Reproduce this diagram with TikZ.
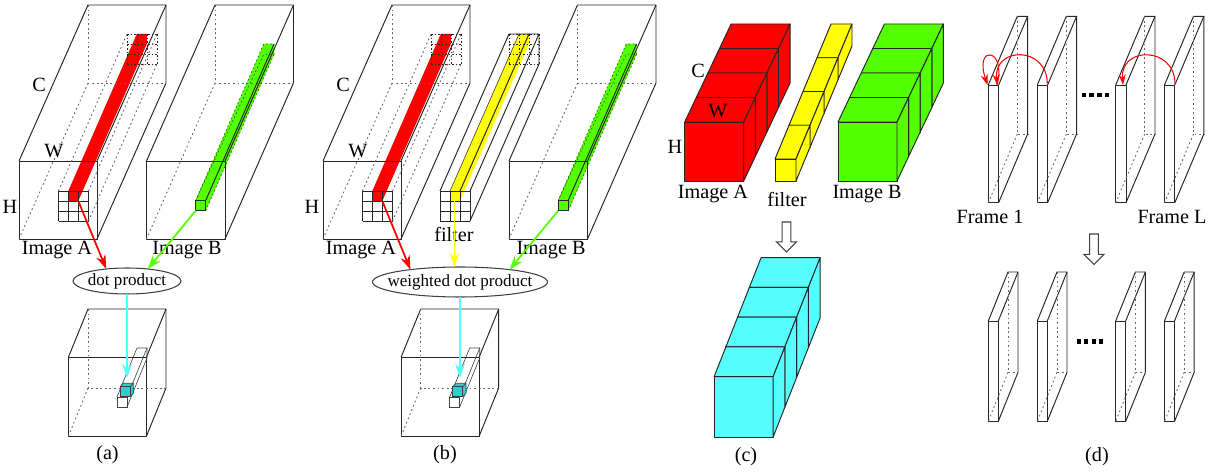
\documentclass[tikz,border=0pt]{standalone}
\usepackage{fontspec}
\setmainfont{Liberation Serif}
\usetikzlibrary{arrows.meta,shapes.geometric}
\definecolor{imgRed}{RGB}{255,0,0}
\definecolor{imgGreen}{RGB}{84,255,0}
\definecolor{imgYellow}{RGB}{255,255,0}
\definecolor{imgCyan}{RGB}{85,255,255}
\definecolor{cellTeal}{RGB}{50,205,205}
\tikzset{
  wire/.style={line width=0.55pt,black!85,line join=round},
  thinwire/.style={line width=0.35pt,black!75},
  hiddenline/.style={line width=0.5pt,black!60,dash pattern=on 1pt off 1.6pt},
  griddot/.style={line width=0.5pt,black!85,dash pattern=on 1pt off 1pt},
  barline/.style={line width=0.4pt,black!55!imgGreen,dash pattern=on 1pt off 1.4pt},
  labeltext/.style={font=\fontsize{11.5}{13}\selectfont,inner sep=0pt},
  opnode/.style={draw=black!75,line width=0.6pt,ellipse,inner ysep=0pt,outer sep=0pt,font=\fontsize{9.7}{11}\selectfont},
  flow/.style={-{Stealth[length=8pt,width=5.5pt]},line width=1pt},
  redarc/.style={-{Stealth[length=6pt,width=4pt]},line width=0.6pt,imgRed}
}
% box with solid front and dotted back edges
\newcommand{\wirebox}[6]{%
  \draw[wire] (#1,#2) -- ++(#3,0) -- ++(0,#4) -- ++(-#3,0) -- cycle;
  \draw[wire] (#1,#2) -- ++(#5,#6) -- ++(#3,0) -- ++(0,#4) -- ++(-#5,-#6);
  \draw[wire] (#1,#2) ++(#3,0) -- ++(#5,#6);
  \draw[hiddenline] (#1,#2) ++(#5,#6) -- ++(0,#4) -- ++(#3,0);
  \draw[hiddenline] (#1,#2) ++(#5,#6) ++(0,#4) -- ++(-#5,-#6);
}
% three by three cells
\newcommand{\cellgrid}[3]{%
  \foreach \k in {0,10,20,30} {
    \draw[#3] (#1,#2) ++(\k,0) -- ++(0,30);
    \draw[#3] (#1,#2) ++(0,\k) -- ++(30,0);
  }
}
% row of four solid cubes, back one first
\newcommand{\cubestack}[7]{%
  \foreach \i in {3,2,1,0} {
    \draw[wire,fill=#7,shift={({\i*(#5)},{\i*(#6)})}] (#1,#2) -- ++(#3,0) -- ++(0,#4) -- ++(-#3,0) -- cycle;
    \draw[wire,fill=#7,shift={({\i*(#5)},{\i*(#6)})}] (#1,#2) -- ++(#5,#6) -- ++(#3,0) -- ++(-#5,-#6) -- cycle;
    \draw[wire,fill=#7,shift={({\i*(#5)},{\i*(#6)})}] (#1,#2) ++(#3,0) -- ++(#5,#6) -- ++(0,#4) -- ++(-#5,-#6) -- cycle;
  }
}
\newcommand{\hollowarrow}[3]{%
  \draw[thinwire,line width=0.6pt] (#1,#2) ++(-4.3,0) -- ++(8.6,0) -- ++(0,#3) -- ++(5.8,0) -- ++(-10.1,10.2) -- ++(-10.1,-10.2) -- ++(5.8,0) -- cycle;
}
% image A volume with its red bar and grids
\newcommand{\imagered}{%
  \fill[imgRed] (68.3,191) -- ++(68.5,-157) -- ++(10,0) -- ++(0,10) -- ++(-68.5,157) -- ++(-10,0) -- cycle;
  \wirebox{19}{161}{78}{78}{69}{-156}
  \cellgrid{58.5}{191}{wire}
  \cellgrid{127}{34}{griddot}
  \draw[hiddenline] (58.5,191) -- (127,34);
  \draw[hiddenline] (88.5,191) -- (157,34);
  \draw[hiddenline] (88.5,221) -- (157,64);
}
% image B volume with its green bar
\newcommand{\imagegreen}{%
  \fill[imgGreen] (195.7,200.5) -- ++(68,-156.5) -- ++(10.3,0) -- ++(0,10.3) -- ++(-68.3,156.7) -- ++(-10,0) -- cycle;
  \wirebox{146.5}{161}{78.5}{78}{68.5}{-156}
  \draw[barline] (195.7,200.5) -- (263.7,44) -- (274,44) -- (274,54.3) -- (263.7,54.3) -- cycle;
  \draw[barline] (205.7,210.7) -- (274,54.3);
  \draw[wire] (205.7,200.5) -- (274,44);
  \draw[wire] (195.7,200.5) rectangle (205.7,210.7);
}
% result volume with one slim bar and a cell
\newcommand{\resultbox}{%
  \wirebox{68.5}{357}{78}{79}{19.5}{-48}
  \draw[thinwire] (117,397) rectangle (127,407);
  \draw[thinwire] (117,397) -- (137,348) -- (147,348) -- (127,397);
  \draw[thinwire] (127,407) -- (147,358) -- (147,348);
  \fill[cellTeal] (120,386.7) -- ++(3.3,-3.4) -- ++(10,0) -- ++(0,10) -- ++(-3.3,3.4) -- ++(-10,0) -- cycle;
  \draw[thinwire] (120,386.7) rectangle (130,396.7);
  \draw[thinwire] (120,386.7) -- ++(3.3,-3.4) -- ++(10,0) -- ++(0,10) -- (130,396.7);
  \draw[thinwire] (130,386.7) -- ++(3.3,-3.4);
}
\begin{document}
\begin{tikzpicture}[x=0.02cm,y=-0.02cm]
    \useasboundingbox (0,0) rectangle (1210,472);
    % (a) dot product
    \imagered
    \imagegreen
    \resultbox
    \node[labeltext] (aC) at (39,85) {C};
    \node[labeltext] (aW) at (54,151) {W};
    \node[labeltext] (aH) at (10,207) {H};
    \node[labeltext] (aImageA) at (57,250) {Image A};
    \node[labeltext] (aImageB) at (187,250) {Image B};
    \node[opnode,inner xsep=-1pt,minimum width=2.16cm,minimum height=0.52cm] (dotprod) at (127,281) {dot product};
    \node[labeltext] (aCap) at (107.5,455) {(a)};
    \coordinate (aRed) at (78.3,201);
    \coordinate (aGreen) at (195.7,210.7);
    \coordinate (aCell) at (127,378);
    \draw[flow,imgRed] (aRed) -- (dotprod.150);
    \draw[flow,imgGreen] (aGreen) -- (dotprod.30);
    \draw[flow,imgCyan] (dotprod.south) -- (aCell);
    % (b) weighted dot product
    \begin{scope}[shift={(304,0)}]
      \imagered
    \end{scope}
    \begin{scope}[shift={(362.5,0)}]
      \imagegreen
    \end{scope}
    \begin{scope}[shift={(332.7,0)}]
      \resultbox
    \end{scope}
    \fill[imgYellow] (450,191) -- ++(69,-157) -- ++(10,0) -- ++(0,10) -- ++(-69,157) -- ++(-10,0) -- cycle;
    \cellgrid{440}{191}{wire}
    \cellgrid{509}{34}{griddot}
    \draw[wire] (440,191) -- (509,34) -- (539,34) -- (539,64) -- (470,221);
    \draw[wire] (470,191) -- (539,34);
    \draw[thinwire] (450,191) -- (519,34);
    \draw[wire] (460,191) -- (529,34);
    \node[labeltext] (bC) at (343,85) {C};
    \node[labeltext] (bW) at (358,151) {W};
    \node[labeltext] (bH) at (312,207) {H};
    \node[labeltext] (bImageA) at (361,250) {Image A};
    \node[labeltext] (bImageB) at (551,250) {Image B};
    \node[labeltext] (bFilter) at (454,234) {filter};
    \node[opnode,inner xsep=-6pt,minimum width=3.48cm,minimum height=0.6cm] (wdotprod) at (460,282) {weighted dot product};
    \node[labeltext] (bCap) at (445,455) {(b)};
    \coordinate (bRed) at (382.3,201);
    \coordinate (bYellow) at (454.5,201);
    \coordinate (bGreen) at (558.2,210.7);
    \coordinate (bCell) at (460,378);
    \draw[flow,imgRed] (bRed) -- (wdotprod.166);
    \draw[flow,imgYellow] (bYellow) -- (bYellow |- wdotprod.north);
    \draw[flow,imgGreen] (bGreen) -- (wdotprod.14);
    \draw[flow,imgCyan] (wdotprod.south) -- (bCell);
    % (c) cubes
    \cubestack{684.7}{122}{59}{59}{11.6}{-24.5}{imgRed}
    \cubestack{775}{159}{21}{22}{14}{-33.75}{imgYellow}
    \cubestack{838}{122}{59}{59}{11.6}{-24.5}{imgGreen}
    \cubestack{714.1}{376.7}{59}{60.3}{11.75}{-29.75}{imgCyan}
    \node[labeltext] (cC) at (698,71) {C};
    \node[labeltext] (cW) at (718,111) {W};
    \node[labeltext] (cH) at (675,147) {H};
    \node[labeltext] (cImageA) at (713,194) {Image A};
    \node[labeltext] (cFilter) at (787,199) {filter};
    \node[labeltext] (cImageB) at (867,194) {Image B};
    \node[labeltext] (cCap) at (746,457) {(c)};
    \hollowarrow{786.5}{222}{19.8}
    % (d) frames
    \foreach \x in {988.3,1037.3,1115.7,1164.5} {
      \wirebox{\x}{85}{10.3}{117.7}{29}{-68.7}
      \wirebox{\x}{321}{10}{100.3}{19.7}{-49}
    }
    \foreach \x in {0,1,2,3} {
      \fill ({1081.7+\x*7.7},92.7) rectangle ++(4.6,4.6);
      \fill ({1076.5+\x*7.5},339.2) rectangle ++(4.4,4.4);
    }
    \coordinate (frameA) at (987.5,85);
    \coordinate (frameAb) at (997,85);
    \coordinate (frameB) at (1047.3,83.5);
    \coordinate (frameC) at (1123,85);
    \coordinate (frameD) at (1175,84);
    \draw[redarc] (frameAb) .. controls (1007,48) and (974,44) .. (frameA);
    \draw[redarc] (frameB) .. controls (1047,46) and (994,46) .. (frameAb);
    \draw[redarc] (frameD) .. controls (1175,46) and (1120,46) .. (frameC);
    \node[labeltext] (dFrameOne) at (990,217) {Frame 1};
    \node[labeltext] (dFrameL) at (1172,217) {Frame L};
    \node[labeltext] (dCap) at (1097,457) {(d)};
    \hollowarrow{1094}{234}{20.3}
  \end{tikzpicture}
\end{document}
